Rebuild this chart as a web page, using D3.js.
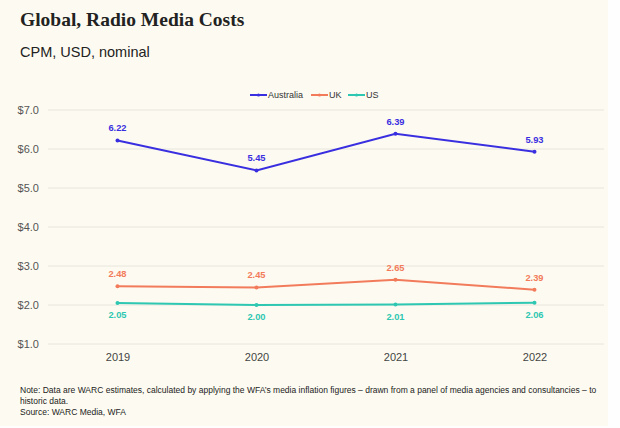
<!DOCTYPE html>
<html><head><meta charset="utf-8">
<script src="https://cdn.jsdelivr.net/npm/d3@7"></script>
<style>
html,body{margin:0;padding:0;background:#fefefe;}
svg{display:block;}
</style></head>
<body>
<svg id="chart" width="620" height="428"></svg>
<script>
const years = ["2019", "2020", "2021", "2022"];
const australia = [6.22, 5.45, 6.39, 5.93];
const uk = [2.48, 2.45, 2.65, 2.39];
const us = [2.05, 2.00, 2.01, 2.06];
const yTicks = [1, 2, 3, 4, 5, 6, 7];
const seriesNames = ["Australia", "UK", "US"];
const seriesColors = ["#3a2fe0", "#f27b5c", "#2ec7b2"];

const series = [
  {name: seriesNames[0], values: australia, color: seriesColors[0], pos: "above"},
  {name: seriesNames[1], values: uk, color: seriesColors[1], pos: "above"},
  {name: seriesNames[2], values: us, color: seriesColors[2], pos: "below"}
];

const svg = d3.select("#chart");
svg.append("rect").attr("x",0).attr("y",0).attr("width",608).attr("height",426).attr("fill","#fdfbf1");

svg.append("text").attr("x",20).attr("y",26)
  .attr("font-family","'Liberation Serif', 'DejaVu Serif', serif").attr("font-weight","bold")
  .attr("font-size",19.5).attr("fill","#222").text("Global, Radio Media Costs");
svg.append("text").attr("x",20).attr("y",57)
  .attr("font-family","'Liberation Sans', Arial, sans-serif")
  .attr("font-size",14.5).attr("fill","#222").text("CPM, USD, nominal");

const x = d3.scalePoint().domain(years).range([48, 604]).padding(0.5);
const y = d3.scaleLinear().domain([1, 7]).range([344, 110]);

// grid
const grid = svg.append("g");
grid.selectAll("line").data(yTicks).join("line")
  .attr("x1",48).attr("x2",604)
  .attr("y1",d=>y(d)).attr("y2",d=>y(d))
  .attr("stroke","#e6e4dc").attr("stroke-width",1);

// y axis
const yAxis = svg.append("g").attr("transform","translate(42,0)")
  .call(d3.axisLeft(y).tickValues(yTicks).tickSize(0).tickFormat(d=>"$"+d3.format(".1f")(d)));
yAxis.select(".domain").remove();
yAxis.selectAll("text").attr("font-family","'Liberation Sans', Arial, sans-serif")
  .attr("font-size",11).attr("fill","#555").attr("dx",0);

// x axis
const xAxis = svg.append("g").attr("transform","translate(0,348)")
  .call(d3.axisBottom(x).tickSize(0));
xAxis.select(".domain").remove();
xAxis.selectAll("text").attr("font-family","'Liberation Sans', Arial, sans-serif")
  .attr("font-size",11).attr("fill","#444").attr("dy","0.9em");

const line = d3.line().x((d,i)=>x(years[i])).y(d=>y(d));

series.forEach(s=>{
  const g = svg.append("g");
  g.append("path").datum(s.values).attr("d",line)
    .attr("fill","none").attr("stroke",s.color).attr("stroke-width",2);
  g.selectAll("circle").data(s.values).join("circle")
    .attr("cx",(d,i)=>x(years[i])).attr("cy",d=>y(d)).attr("r",2)
    .attr("fill",s.color);
  g.selectAll("text").data(s.values).join("text")
    .attr("x",(d,i)=>x(years[i]))
    .attr("y",d=> s.pos==="above" ? y(d)-9 : y(d)+15)
    .attr("text-anchor","middle")
    .attr("font-family","'Liberation Sans', Arial, sans-serif")
    .attr("font-weight","bold").attr("font-size",9.3)
    .attr("fill",s.color).text(d=>d3.format(".2f")(d));
});

// legend
const legendX = [250, 311, 348];
const legend = svg.append("g");
series.forEach((s,i)=>{
  const lx = legendX[i];
  legend.append("line").attr("x1",lx).attr("x2",lx+17).attr("y1",95).attr("y2",95)
    .attr("stroke",s.color).attr("stroke-width",2);
  legend.append("circle").attr("cx",lx+8.5).attr("cy",95).attr("r",1.6).attr("fill",s.color);
  legend.append("text").attr("x",lx+18).attr("y",98)
    .attr("font-family","'Liberation Sans', Arial, sans-serif")
    .attr("font-size",9).attr("fill","#333").text(s.name);
});

// notes
const notes = [
  ["Note: Data are WARC estimates, calculated by applying the WFA’s media inflation figures – drawn from a panel of media agencies and consultancies – to", 393],
  ["historic data.", 404],
  ["Source: WARC Media, WFA", 415]
];
notes.forEach(n=>{
  svg.append("text").attr("x",20).attr("y",n[1])
    .attr("font-family","'Liberation Sans', Arial, sans-serif")
    .attr("font-size",8.5).attr("fill","#222").text(n[0]);
});
</script>
</body></html>
